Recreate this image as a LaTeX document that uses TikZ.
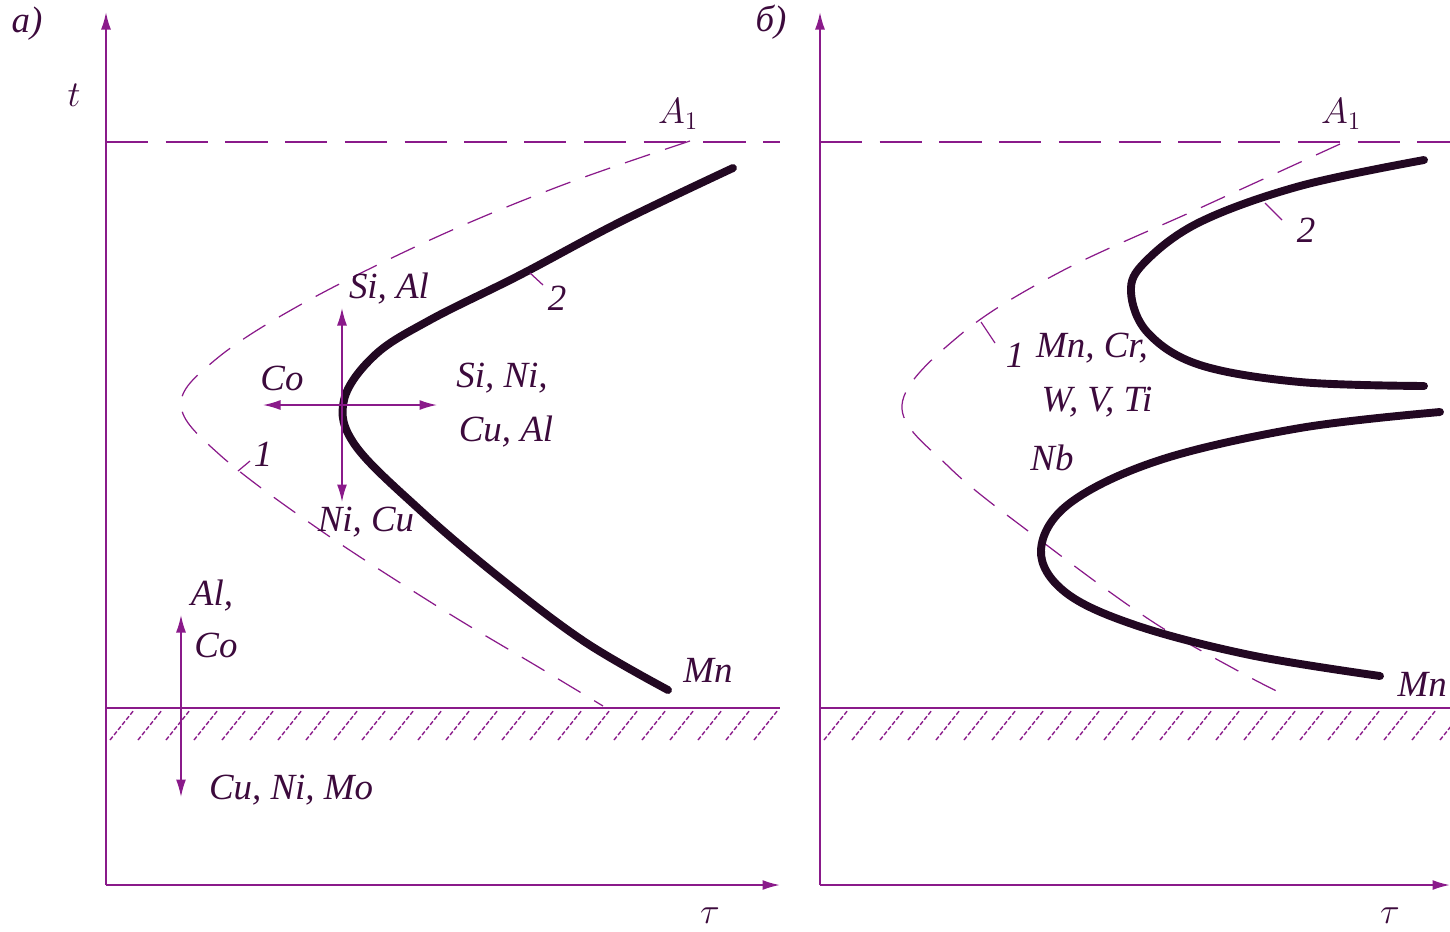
\documentclass[tikz,border=0pt]{standalone}
\usepackage{fontspec}
\setmainfont{Liberation Serif}
\usetikzlibrary{arrows.meta}

\definecolor{lilac}{HTML}{8A1A8A}
\definecolor{plum}{HTML}{3C0A3C}
\definecolor{ink}{HTML}{220822}

\tikzset{
	axis/.style={lilac, line width=1.1pt},
	limitline/.style={lilac, line width=0.9pt, dash pattern=on 24pt off 10pt},
	boundary/.style={lilac, line width=0.7pt, dash pattern=on 15pt off 9pt},
	kinetic/.style={ink, line width=4.5pt, line cap=round},
	hatchline/.style={lilac, line width=0.8pt, dash pattern=on 2.5pt off 1.2pt},
	effect/.style={lilac, line width=0.9pt},
	tick/.style={lilac, line width=0.7pt},
}

\begin{document}
\begin{tikzpicture}[x=0.02cm, y=-0.02cm,
	every node/.style={font=\fontsize{21}{24}\selectfont\itshape, text=plum, inner sep=1pt},
	>={Latex[length=3.5mm, width=2mm]}]
	\useasboundingbox (0,0) rectangle (1450,931);

	% --- panel a ---
	\coordinate (Oa) at (106,885);
	\coordinate (Ya) at (106,12);
	\coordinate (Xa) at (780,885);
	\draw[axis,->] (Oa) -- (Ya);
	\draw[axis,->] (Oa) -- (Xa);
	\node (pa) at (27,24) {а)};
	\node (ta) at (74,95) {$t$};
	\node (taua) at (710,916) {$\tau$};

	\draw[limitline] (106,142) -- (780,142);
	\node (A1a) at (678,114) {$A_1$};

	\draw[axis] (106,708) -- (780,708);
	\foreach \x in {110,138,...,760}
		\draw[hatchline] (\x,740) -- ++(24,-30);

	% curve 1 (dashed)
	\draw[boundary] plot[smooth, tension=0.6] coordinates {(690,141) (560,186) (430,240) (300,305) (215,360) (181,405) (220,455) (320,530) (440,608) (540,668) (603,706)};
	\draw[tick] (238,471) -- (250,461);
	\node (n1a) at (263,454) {1};

	% curve 2 (thick)
	\draw[kinetic] plot[smooth, tension=0.6] coordinates {(733,168) (620,222) (520,275) (430,320) (375,355) (344,400) (355,445) (420,510) (500,578) (585,642) (668,690)};
	\draw[tick] (530,273) -- (543,285);
	\node (n2a) at (557,298) {2};
	\node (Mna) at (708,670) {Mn};

	% alloying effects at the nose
	\coordinate (nose) at (342,405);
	\coordinate (up) at (342,308);
	\coordinate (dn) at (342,502);
	\coordinate (lt) at (263,405);
	\coordinate (rt) at (437,405);
	\draw[effect,->] (nose) -- (up);
	\draw[effect,->] (nose) -- (dn);
	\draw[effect,->] (nose) -- (lt);
	\draw[effect,->] (nose) -- (rt);
	\node (SiAl) at (389,289) {Si, Al};
	\node (Co1) at (282,378) {Co};
	\node (SiNi) at (502,378) {Si, Ni,};
	\node (CuAl) at (506,432) {Cu, Al};
	\node (NiCu) at (366,522) {Ni, Cu};

	% alloying effects on the martensite point
	\coordinate (Mup) at (181,615);
	\coordinate (Mdn) at (181,797);
	\draw[effect,<->] (Mup) -- (Mdn);
	\node (Al) at (212,596) {Al,};
	\node (Co2) at (216,645) {Co};
	\node (CuNiMo) at (291,790) {Cu, Ni, Mo};

	% --- panel b ---
	\coordinate (Ob) at (820,885);
	\coordinate (Yb) at (820,12);
	\coordinate (Xb) at (1450,885);
	\draw[axis,->] (Ob) -- (Yb);
	\draw[axis,->] (Ob) -- (Xb);
	\node (pb) at (771,22) {б)};
	\node (taub) at (1390,916) {$\tau$};

	\draw[limitline] (820,142) -- (1450,142);
	\node (A1b) at (1341,114) {$A_1$};

	\draw[axis] (820,708) -- (1450,708);
	\foreach \x in {824,852,...,1440}
		\draw[hatchline] (\x,740) -- ++(24,-30);

	% curve 1 (dashed)
	\draw[boundary] plot[smooth, tension=0.6] coordinates {(1340,144) (1200,208) (1060,272) (960,335) (902,405) (950,468) (1040,540) (1150,620) (1240,672) (1287,696)};
	\draw[tick] (981,322) -- (995,343);
	\node (n1b) at (1015,355) {1};

	% curve 2 (thick), upper and lower parts
	\draw[kinetic] plot[smooth, tension=0.6] coordinates {(1424,160) (1300,186) (1200,222) (1145,262) (1131,292) (1148,333) (1200,365) (1300,382) (1424,386)};
	\draw[kinetic] plot[smooth, tension=0.6] coordinates {(1440,412) (1300,428) (1160,460) (1070,503) (1041,550) (1065,592) (1135,625) (1250,655) (1380,676)};
	\draw[tick] (1265,203) -- (1282,220);
	\node (n2b) at (1306,230) {2};

	\node (MnCr) at (1092,348) {Mn, Cr,};
	\node (WVTi) at (1097,402) {W, V, Ti};
	\node (Nb) at (1052,458) {Nb};
	\node[anchor=east] (Mnb) at (1449,684) {Mn};
\end{tikzpicture}
\end{document}
